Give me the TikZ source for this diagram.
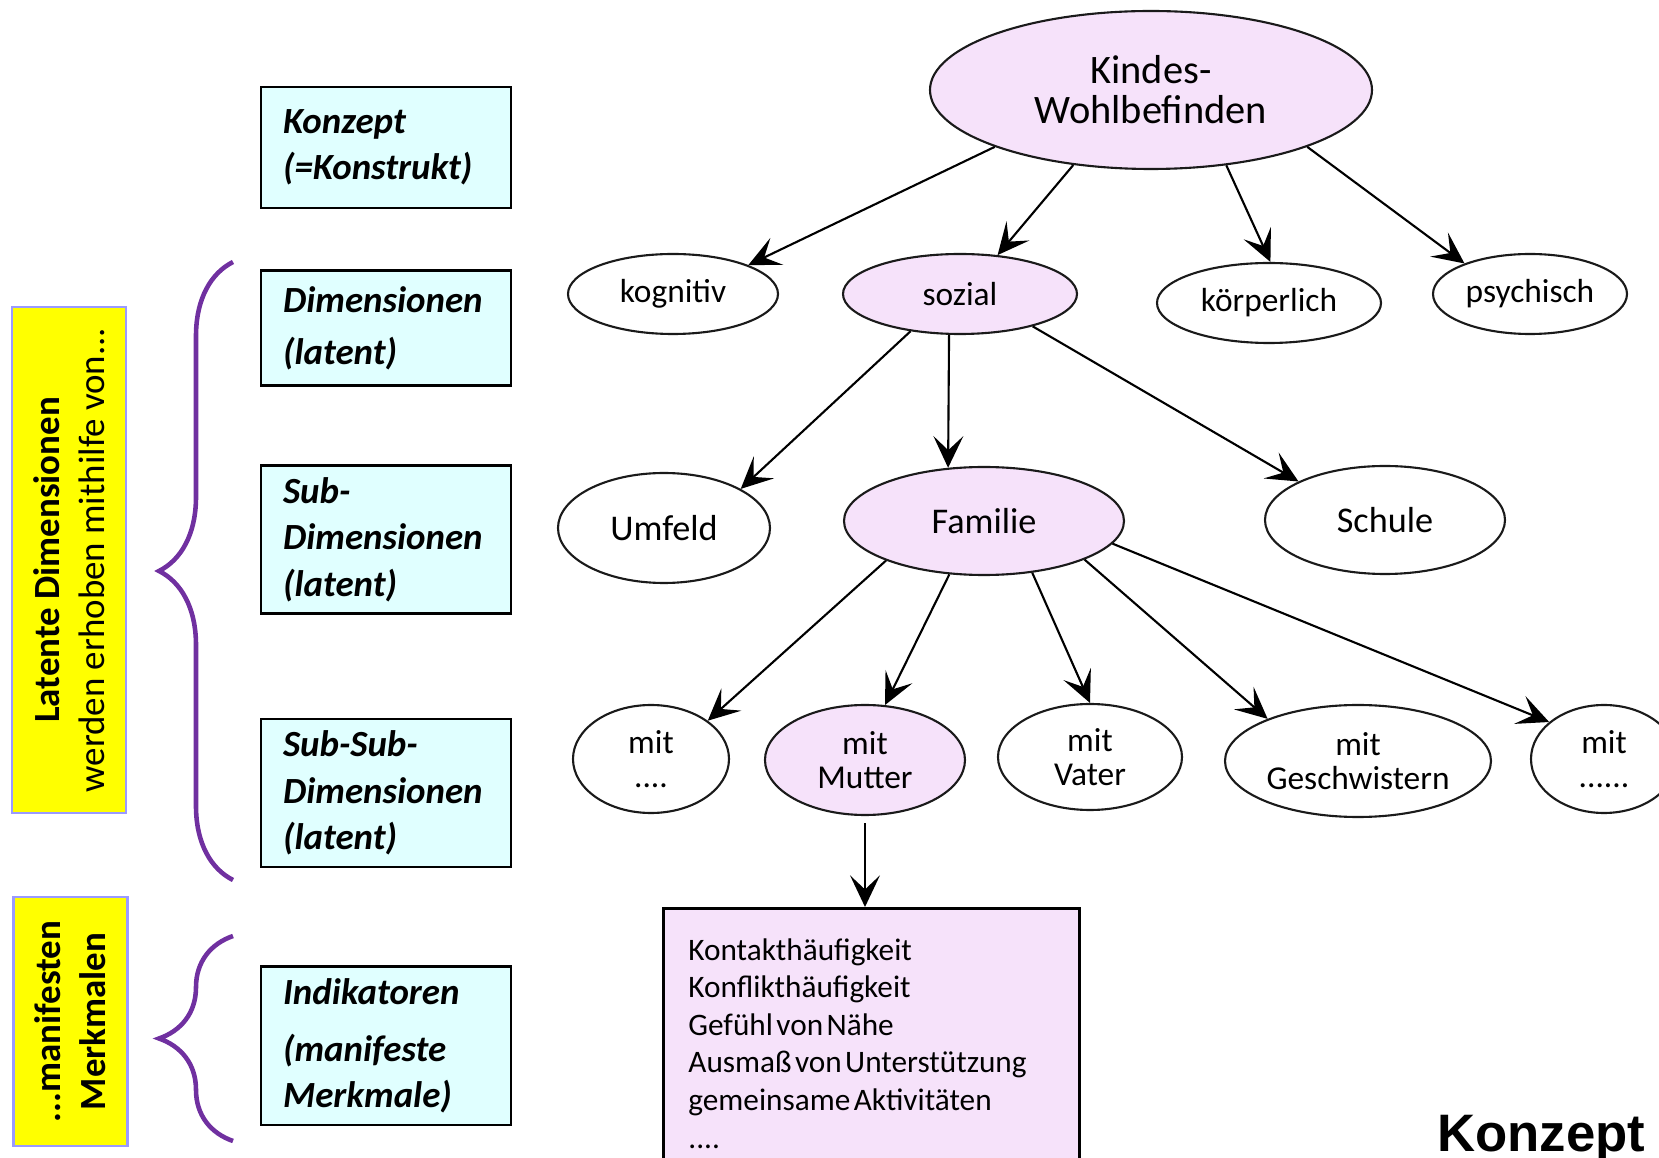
\documentclass[tikz,border=0pt]{standalone}
\usepackage{fontspec}
\setmainfont{Carlito}
\newfontfamily\arialfont{Liberation Sans}
\usepackage{tikz}
\usetikzlibrary{arrows.meta, calc, positioning, shapes.geometric, decorations.pathreplacing}
\usepackage{xcolor}
\definecolor{kPink}{HTML}{F6E2FA}
\definecolor{kCyan}{HTML}{E0FFFF}
\definecolor{kYellow}{HTML}{FFFF00}
\definecolor{kFrame}{HTML}{9A9AFF}
\definecolor{kPurple}{HTML}{7030A0}
\definecolor{kInk}{HTML}{1A1A1A}

\begin{document}
\begin{tikzpicture}[
  ell/.style={ellipse, draw=kInk, line width=0.6pt, fill=white, inner sep=0pt, align=center,
              font=\fontsize{9.5}{9.8}\selectfont},
  soft/.style={fill=kPink},
  rootfont/.style={font=\fontsize{11.5}{11.4}\selectfont},
  subfont/.style={font=\fontsize{10.3}{12}\selectfont},
  level/.style={draw=black, line width=0.8pt, fill=kCyan, minimum width=2.5cm, text width=2.06cm,
                align=left, font=\fontsize{10.5}{13.2}\selectfont\bfseries\itshape},
  side/.style={draw=kFrame, line width=0.8pt, fill=kYellow, rotate=90, align=center,
               minimum height=1.14cm, font=\fontsize{10.5}{12.9}\selectfont},
  curly/.style={decorate, decoration={brace, amplitude=0.74cm}, draw=kPurple, line width=1.3pt},
  arr/.style={-{Stealth[length=9pt, width=8.5pt, inset=4pt]}, line width=0.6pt, black}]
  \useasboundingbox (0,0) rectangle (16.59,-11.58);
  % left column: levels
  \node[level, minimum height=1.21cm] (konz) at (3.86,-1.475) {Konzept\\(=Konstrukt)};
  \node[level, minimum height=1.15cm, below=0.60cm of konz] (dims) {Dimensionen\\[1.5pt](latent)};
  \node[level, minimum height=1.47cm, below=0.77cm of dims] (subd) {Sub-\\Dimensionen\\(latent)};
  \node[level, minimum height=1.48cm, below=1.03cm of subd] (ssub) {Sub-Sub-\\Dimensionen\\(latent)};
  \node[level, minimum height=1.54cm, below=0.97cm of ssub] (indk) {Indikatoren\\[3pt](manifeste\\Merkmale)};
  % yellow side labels and braces
  \node[side, minimum width=5.06cm] (lat) at (0.69,-5.60)
    {\textbf{Latente Dimensionen}\\werden erhoben mithilfe von...};
  \node[side, minimum width=2.49cm, font=\fontsize{10.5}{12.9}\selectfont\bfseries] (man) at (0.705,-10.215)
    {...manifesten\\Merkmalen};
  \draw[curly] (2.33,-8.80) -- (2.33,-2.62);
  \draw[curly] (2.33,-11.41) -- (2.33,-9.36);
  % tree
  \node[ell, soft, rootfont, minimum width=4.42cm, minimum height=1.58cm] (kwb) at (11.51,-0.90) {Kindes-\\Wohlbefinden};
  \node[ell, minimum width=2.10cm, minimum height=0.80cm] (kog) at (6.73,-2.94) {kognitiv};
  \node[ell, soft, minimum width=2.34cm, minimum height=0.80cm] (soz) at (9.60,-2.94) {sozial};
  \node[ell, minimum width=2.24cm, minimum height=0.80cm] (koe) at (12.69,-3.03) {körperlich};
  \node[ell, minimum width=1.94cm, minimum height=0.80cm] (psy) at (15.30,-2.94) {psychisch};
  \node[ell, subfont, minimum width=2.12cm, minimum height=1.10cm] (umf) at (6.64,-5.28) {Umfeld};
  \node[ell, soft, subfont, minimum width=2.80cm, minimum height=1.08cm] (fam) at (9.84,-5.21) {Familie};
  \node[ell, subfont, minimum width=2.40cm, minimum height=1.08cm] (sch) at (13.85,-5.20) {Schule};
  \node[ell, minimum width=1.56cm, minimum height=1.08cm] (mita) at (6.51,-7.59) {mit\\....};
  \node[ell, soft, minimum width=2.00cm, minimum height=1.10cm] (mut) at (8.65,-7.60) {mit\\Mutter};
  \node[ell, minimum width=1.84cm, minimum height=1.06cm] (vat) at (10.90,-7.57) {mit\\Vater};
  \node[ell, minimum width=2.66cm, minimum height=1.12cm] (ges) at (13.58,-7.61) {mit\\Geschwistern};
  \node[ell, minimum width=1.46cm, minimum height=1.08cm] (mitb) at (16.04,-7.59) {mit\\......};
  % indicators
  \node[draw=black, line width=0.8pt, fill=kPink, anchor=north west, minimum width=4.16cm,
        minimum height=2.7cm, text width=3.66cm, align=left, font=\fontsize{8.9}{10.7}\selectfont]
        (ind) at (6.62,-9.07)
        {\spaceskip=0.11em\relax Kontakthäufigkeit\\Konflikthäufigkeit\\Gefühl von Nähe\\Ausmaß von Unterstützung\\gemeinsame Aktivitäten\\....};
  % arrows
  \foreach \s/\t in {kwb.200/kog.21, kwb.224/soz.46, kwb.315/koe.88, kwb.340/psy.155,
                     soz.217/umf.27, soz.255/fam.124, soz.336/sch.156,
                     fam.202/mita.34, fam.237/mut.70, fam.313/vat.90, fam.339/ges.155, fam.350/mitb.146}
    \draw[arr] (\s) -- (\t);
  \draw[arr, shorten <=2pt] (mut.south) -- (mut.south |- ind.north);
  % caption
  \node[font=\arialfont\bfseries\fontsize{15}{18}\selectfont, anchor=base east, inner sep=0pt] (cap) at (16.46,-11.51) {Konzept};
\end{tikzpicture}
\end{document}
